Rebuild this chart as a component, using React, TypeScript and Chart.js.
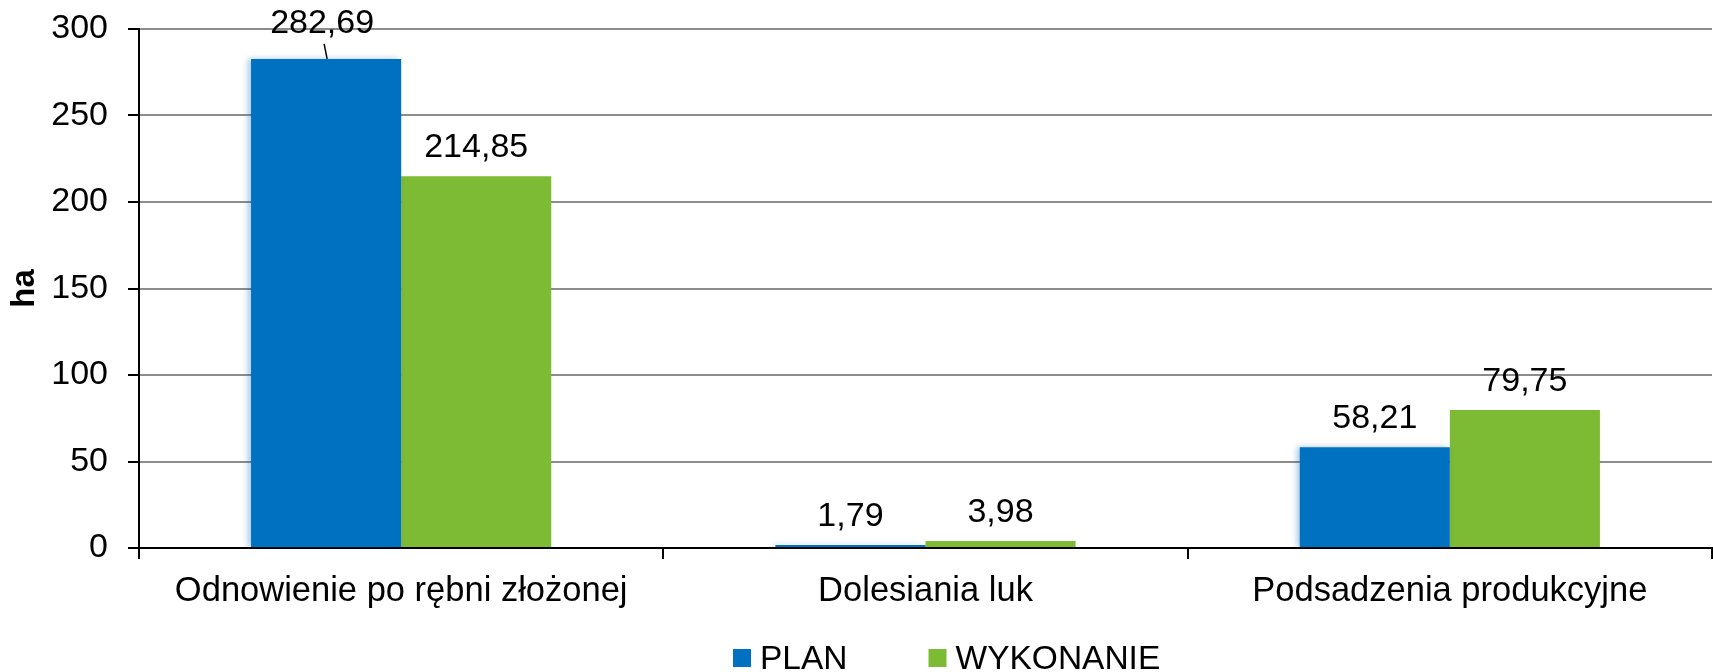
import React, { useEffect, useRef } from "react";
import { Chart, registerables } from "chart.js";

Chart.register(...registerables);

const categories = ["Odnowienie po rębni złożonej", "Dolesiania luk", "Podsadzenia produkcyjne"];
const planValues = [282.69, 1.79, 58.21];
const wykonanieValues = [214.85, 3.98, 79.75];
const seriesNames = ["PLAN", "WYKONANIE"];
const yTickValues = [0, 50, 100, 150, 200, 250, 300];
const yAxisTitle = "ha";

const BLUE = "#0070C0";
const GREEN = "#7CBB33";
const FONT = "'Liberation Sans', Arial, sans-serif";

const fmt = (v: number) => v.toFixed(2).replace(".", ",");

const shadowPlugin = {
  id: "barShadow",
  beforeDatasetDraw(chart: any, args: any) {
    if (args.index === 0) {
      const ctx = chart.ctx;
      ctx.save();
      ctx.shadowColor = "rgba(0, 100, 190, 0.35)";
      ctx.shadowBlur = 6;
      ctx.shadowOffsetX = -3;
      ctx.shadowOffsetY = 0;
    }
  },
  afterDatasetDraw(chart: any, args: any) {
    if (args.index === 0) chart.ctx.restore();
  },
};

const dataLabelsPlugin = {
  id: "dataLabels",
  afterDatasetsDraw(chart: any) {
    const ctx = chart.ctx;
    ctx.save();
    ctx.font = `34px ${FONT}`;
    ctx.fillStyle = "#000";
    ctx.textAlign = "center";
    ctx.textBaseline = "alphabetic";
    chart.data.datasets.forEach((ds: any, di: number) => {
      const meta = chart.getDatasetMeta(di);
      meta.data.forEach((el: any, i: number) => {
        const txt = fmt(ds.data[i]);
        if (el.y - 45 < chart.chartArea.top) {
          ctx.fillText(txt, el.x - 4, el.y - 26);
          ctx.beginPath();
          ctx.moveTo(el.x - 2, el.y - 15);
          ctx.lineTo(el.x + 1, el.y);
          ctx.strokeStyle = "#000";
          ctx.lineWidth = 1.5;
          ctx.stroke();
        } else {
          ctx.fillText(txt, el.x, el.y - 19);
        }
      });
    });
    ctx.restore();
  },
};

const legendPlugin = {
  id: "customLegend",
  afterDraw(chart: any) {
    const ctx = chart.ctx;
    ctx.save();
    ctx.font = `33.5px ${FONT}`;
    ctx.textAlign = "left";
    ctx.textBaseline = "alphabetic";
    let x = 733;
    const boxTop = 649;
    const baseline = 669;
    chart.data.datasets.forEach((ds: any) => {
      ctx.fillStyle = ds.backgroundColor;
      ctx.fillRect(x, boxTop, 18, 18);
      ctx.fillStyle = "#000";
      ctx.fillText(ds.label, x + 27, baseline);
      x += 27 + ctx.measureText(ds.label).width + 81;
    });
    ctx.restore();
  },
};

export default function App() {
  const ref = useRef<HTMLCanvasElement>(null);

  useEffect(() => {
    document.body.style.margin = "0";
    const chart = new Chart(ref.current as HTMLCanvasElement, {
      type: "bar",
      data: {
        labels: categories,
        datasets: [
          {
            label: seriesNames[0],
            data: planValues,
            backgroundColor: BLUE,
            categoryPercentage: 0.5725,
            barPercentage: 1,
          },
          {
            label: seriesNames[1],
            data: wykonanieValues,
            backgroundColor: GREEN,
            categoryPercentage: 0.5725,
            barPercentage: 1,
          },
        ],
      },
      options: {
        responsive: false,
        animation: false,
        devicePixelRatio: 1,
        layout: { padding: { top: 0, right: 1, bottom: 0, left: 0 } },
        plugins: {
          legend: { display: false },
          tooltip: { enabled: false },
          title: { display: false },
        },
        scales: {
          x: {
            grid: {
              offset: true,
              drawOnChartArea: false,
              drawTicks: true,
              tickLength: 11,
              tickColor: "#000",
              lineWidth: 2,
            },
            border: { color: "#000", width: 2 },
            ticks: {
              font: { family: FONT, size: 34.5 },
              color: "#000",
              padding: 12,
              maxRotation: 0,
            },
            afterFit(scale: any) {
              scale.height = 124;
            },
          },
          y: {
            min: 0,
            max: 300,
            afterBuildTicks(scale: any) {
              scale.ticks = yTickValues.map((v) => ({ value: v }));
            },
            grid: {
              color: (c: any) => (c.tick && c.tick.value === 0 ? "#000" : "#8c8c8c"),
              lineWidth: 2,
              tickColor: "#000",
              tickLength: 11,
            },
            border: { color: "#000", width: 2 },
            ticks: {
              font: { family: FONT, size: 34 },
              color: "#000",
              padding: 20,
            },
            title: {
              display: true,
              text: yAxisTitle,
              color: "#000",
              font: { family: FONT, size: 33, weight: "bold", lineHeight: 1 },
              padding: { top: 8, bottom: 0 },
            },
            afterFit(scale: any) {
              scale.width = 139;
              scale.paddingTop = 29;
              scale.paddingBottom = 0;
            },
          },
        },
      },
      plugins: [shadowPlugin, dataLabelsPlugin, legendPlugin],
    });
    return () => chart.destroy();
  }, []);

  return (
    <div style={{ width: 1713, height: 672 }}>
      <canvas ref={ref} width={1713} height={672} style={{ display: "block" }} />
    </div>
  );
}
